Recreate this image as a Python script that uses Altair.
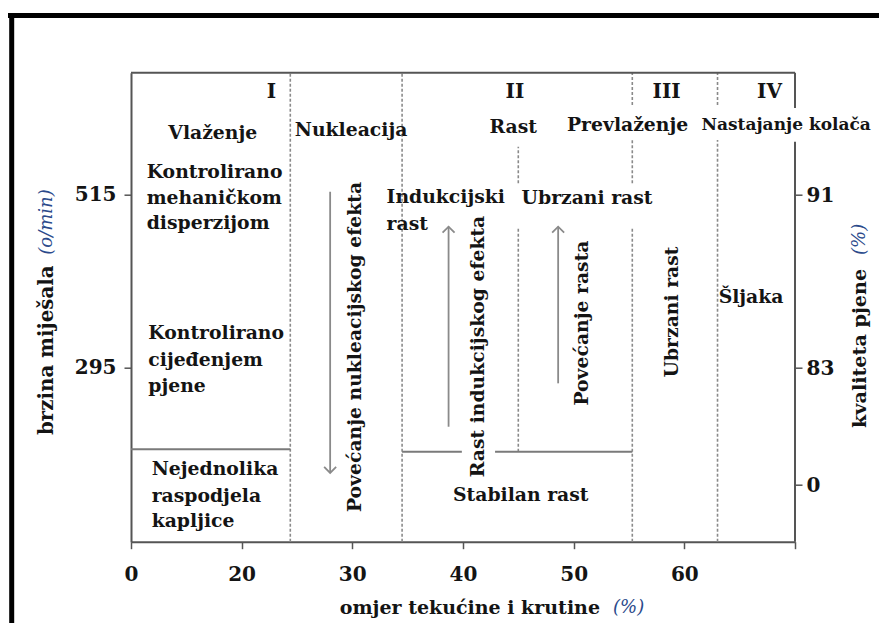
import altair as alt
import pandas as pd

# ---------------- axes / scales ----------------
x_ticks = [0, 20, 30, 40, 50, 60, 70]          # 70 = end of axis (unlabelled)
x_domain = [0, 20, 70]                          # broken axis: 0-20 compressed
y_left_ticks = [295, 515]
y_domain = [74.1, 670.5]
y_right_ticks = [0, 83, 91]
y_right_domain = [0, 83, 91]

# ---------------- regime boundaries ----------------
dash_x  = [24.4, 34.5, 45.0, 45.0, 55.3, 55.3, 55.3, 63.0, 63.0]
dash_y1 = [74.1, 74.1, 188.6, 529.9, 74.1, 529.9, 629.5, 74.1, 629.5]
dash_y2 = [670.5, 670.5, 474.7, 576.4, 474.7, 585.0, 670.5, 585.0, 670.5]

hline_y  = [191.6, 188.6, 188.6]
hline_x1 = [0.0, 34.5, 42.9]
hline_x2 = [24.4, 39.9, 55.3]

frame_top_y = [670.5]
frame_top_x1 = [0.0]
frame_top_x2 = [70.0]
frame_right_x = [70.0, 70.0]
frame_right_y1 = [74.1, 625.6]
frame_right_y2 = [582.8, 670.5]

# ---------------- arrows ----------------
arrow_x    = [28.0, 38.7, 48.6]
arrow_from = [519.2, 220.3, 275.5]
arrow_to   = [161.5, 474.7, 474.7]
arrow_dir  = ["down", "up", "up"]

# ---------------- texts ----------------
roman_text = ["I", "II", "III", "IV"]
roman_x = [22.7, 44.7, 58.4, 67.7]
roman_y = [646.0, 646.0, 646.0, 646.0]

lab_text = ["Vlaženje", "Nukleacija", "Rast", "Prevlaženje",
            "Kontrolirano", "mehaničkom", "disperzijom",
            "Kontrolirano", "cijeđenjem", "pjene",
            "Nejednolika", "raspodjela", "kapljice",
            "Indukcijski", "rast", "Ubrzani rast", "Stabilan rast", "Šljaka"]
lab_x = [6.75, 24.8, 42.4, 49.4,
         2.84, 2.84, 2.84,
         3.13, 3.13, 3.13,
         3.74, 3.74, 3.74,
         33.1, 33.1, 45.3, 39.1, 63.1]
lab_y = [594.2, 597.7, 601.9, 604.0,
         544.6, 510.8, 479.0,
         339.1, 305.2, 272.1,
         166.6, 132.6, 100.4,
         512.5, 478.1, 510.8, 133.5, 385.7]

edge_text = ["Nastajanje kolača"]
edge_x = [61.55]
edge_y = [604.0]

rot_text = ["Povećanje nukleacijskog efekta", "Rast indukcijskog efekta",
            "Povećanje rasta", "Ubrzani rast"]
rot_x = [30.25, 41.4, 50.75, 58.9]
rot_y = [321.7, 322.3, 352.2, 366.2]

# ---------------- helpers ----------------
FONT = "DejaVu Serif"
TXT = "#141414"
UNIT = "#2b4a8b"
LSIZE = 18.8

xscale = alt.Scale(domain=x_domain, range=[0, 110.6, 664], nice=False, zero=False)
xaxis = alt.Axis(values=x_ticks, title=None, labelExpr="datum.value == 70 ? '' : datum.label",
                 tickSize=7, labelPadding=16, labelFlush=False)
yscale = alt.Scale(domain=y_domain, nice=False, zero=False)
yaxis = alt.Axis(values=y_left_ticks, title=None, tickSize=7, labelPadding=8, labelFlush=False)


def X(f):
    return alt.X(f, type="quantitative", scale=xscale, axis=xaxis)


def Y(f):
    return alt.Y(f, type="quantitative", scale=yscale, axis=yaxis)


dash_df = pd.DataFrame({"x": dash_x, "y1": dash_y1, "y2": dash_y2})
dashes = alt.Chart(dash_df).mark_rule(color="#8a8a8a", strokeWidth=1.6, strokeDash=[3, 2]).encode(
    x=X("x"), y=Y("y1"), y2="y2")

h_df = pd.DataFrame({"y": hline_y, "x1": hline_x1, "x2": hline_x2})
hlines = alt.Chart(h_df).mark_rule(color="#7a7a7a", strokeWidth=2).encode(
    x=X("x1"), x2="x2", y=Y("y"))

ft_df = pd.DataFrame({"y": frame_top_y, "x1": frame_top_x1, "x2": frame_top_x2})
frame_top = alt.Chart(ft_df).mark_rule(color="#555555", strokeWidth=2).encode(
    x=X("x1"), x2="x2", y=Y("y"))
fr_df = pd.DataFrame({"x": frame_right_x, "y1": frame_right_y1, "y2": frame_right_y2})
frame_right = alt.Chart(fr_df).mark_rule(color="#555555", strokeWidth=2).encode(
    x=X("x"), y=Y("y1"), y2="y2")

ar_df = pd.DataFrame({"x": arrow_x, "y1": arrow_from, "y2": arrow_to, "dir": arrow_dir})
shafts = alt.Chart(ar_df).mark_rule(color="#8a8a8a", strokeWidth=1.8).encode(
    x=X("x"), y=Y("y1"), y2="y2")
heads = alt.Chart(ar_df).mark_point(filled=False, color="#8a8a8a", strokeWidth=1.8, size=144, opacity=1).encode(
    x=X("x"), y=Y("y2"),
    shape=alt.Shape("dir:N", scale=alt.Scale(domain=["up", "down"],
                                             range=["M-1,1L0,0L1,1", "M-1,-1L0,0L1,-1"]),
                    legend=None))

roman_df = pd.DataFrame({"t": roman_text, "x": roman_x, "y": roman_y})
romans = alt.Chart(roman_df).mark_text(font=FONT, fontWeight="bold", fontSize=20, color=TXT,
                                       align="center", baseline="middle").encode(
    x=X("x"), y=Y("y"), text="t:N")

lab_df = pd.DataFrame({"t": lab_text, "x": lab_x, "y": lab_y})
labels = alt.Chart(lab_df).mark_text(font=FONT, fontWeight="bold", fontSize=LSIZE, color=TXT,
                                     align="left", baseline="middle").encode(
    x=X("x"), y=Y("y"), text="t:N")

edge_df = pd.DataFrame({"t": edge_text, "x": edge_x, "y": edge_y})
edge_labels = alt.Chart(edge_df).mark_text(font=FONT, fontWeight="bold", fontSize=17, color=TXT,
                                           align="left", baseline="middle").encode(
    x=X("x"), y=Y("y"), text="t:N")

rot_df = pd.DataFrame({"t": rot_text, "x": rot_x, "y": rot_y})
rot_labels = alt.Chart(rot_df).mark_text(font=FONT, fontWeight="bold", fontSize=LSIZE, color=TXT,
                                         align="center", baseline="middle", angle=270).encode(
    x=X("x"), y=Y("y"), text="t:N")


# axis titles (two-tone: text + unit)
def title_text(txt, px, py, size, angle=0, align="left", unit=False):
    return alt.Chart(pd.DataFrame({"t": [txt]})).mark_text(
        font=FONT, fontWeight="normal" if unit else "bold", fontStyle="italic" if unit else "normal",
        fontSize=size, color=UNIT if unit else TXT,
        align=align, baseline="middle", angle=angle).encode(
        text="t:N", x=alt.value(px), y=alt.value(py))


titles = [
    title_text("omjer tekućine i krutine", 469, 535.5, 19, align="right"),
    title_text("(%)", 482, 535.5, 18, unit=True),
    title_text("brzina miješala", -84.3, 362.3, 19.8, angle=270),
    title_text("(o/min)", -84.3, 182, 18, angle=270, unit=True),
    title_text("kvaliteta pjene", 729, 355.3, 19.2, angle=270),
    title_text("(%)", 729, 182.3, 18, angle=270, unit=True),
]

# outer picture frame
frame_df = pd.DataFrame({"k": [0]})
outer_top = alt.Chart(frame_df).mark_rule(color="#000000", strokeWidth=5).encode(
    x=alt.value(-124), x2=alt.value(760), y=alt.value(-57.2))
outer_left = alt.Chart(frame_df).mark_rule(color="#000000", strokeWidth=5).encode(
    x=alt.value(-119.3), y=alt.value(-59.5), y2=alt.value(560))

main = alt.layer(dashes, hlines, frame_top, frame_right, shafts, heads,
                 romans, labels, edge_labels, rot_labels, *titles, outer_top, outer_left)

right = alt.Chart(pd.DataFrame({"q": y_right_ticks})).mark_point(opacity=0).encode(
    y=alt.Y("q:Q",
            scale=alt.Scale(domain=y_right_domain, range=[412.3, 295.3, 122.3], nice=False, zero=False),
            axis=alt.Axis(orient="right", values=y_right_ticks, title=None, domain=False,
                          tickSize=7, labelPadding=4, labelFlush=False)))

chart = alt.layer(main, right).resolve_scale(y="independent").properties(
    width=664, height=469,
    autosize=alt.AutoSizeParams(type="none"),
    padding={"left": 123, "top": 64.7, "right": 84, "bottom": 81.3},
    background="white",
).configure_view(stroke=None).configure_axis(
    grid=False, labelFont=FONT, labelFontWeight="bold", labelFontSize=20, labelColor=TXT,
    domainColor="#555555", domainWidth=2, tickColor="#555555", tickWidth=1.5)

chart.save("out.html", embed_options={"renderer": "svg", "actions": False})
